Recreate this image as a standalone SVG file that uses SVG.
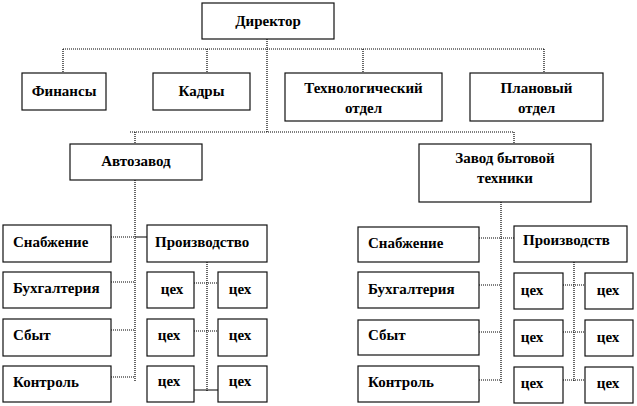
<svg xmlns="http://www.w3.org/2000/svg" width="637" height="406" viewBox="0 0 637 406">
<style>
.box{fill:#fff;stroke:#111;stroke-width:1.2}
.t{font-family:'Liberation Serif','DejaVu Serif','Noto Serif','Times New Roman',serif;font-weight:700;font-size:15px;fill:#000}
.c{text-anchor:middle}
.ln{fill:none;stroke:#000;stroke-width:1.2;stroke-dasharray:1 1}
.sl{fill:none;stroke:#000;stroke-width:1}
</style>
<rect width="637" height="406" fill="#fff"/>
<g id="connectors">
<path class="ln" d="M267 39V132M63 49H544M63 49V73M207 49V73M363 49V73M544 49V73M130 132H514M135 132V144M514 132V144"/>
<path class="ln" d="M135 180V382M111 237H135M111 282H135M111 330H135M111 377H135"/>
<path class="sl" d="M135 237H147"/>
<path class="ln" d="M207 262V392M194 283H218M194 331H218"/>
<path class="sl" d="M194 390H218"/>
<path class="ln" d="M501 202V383M479 238H514M479 285H501M479 332H501M479 380H501"/>
<path class="ln" d="M574 262V382M563 285H585M563 332H585M563 380H585"/>
</g>
<g id="director"><rect class="box" x="202" y="3" width="132" height="36"/><text class="t c" x="268" y="26" font-family="Liberation Serif">Директор</text></g>
<g id="finansy"><rect class="box" x="22" y="73" width="84" height="37"/><text class="t c" x="64" y="96">Финансы</text></g>
<g id="kadry"><rect class="box" x="153" y="73" width="97" height="37"/><text class="t c" x="201.5" y="96">Кадры</text></g>
<g id="tech"><rect class="box" x="285" y="73" width="157" height="48"/><text class="t c" x="363.5" y="93">Технологический</text><text class="t c" x="363.5" y="113">отдел</text></g>
<g id="plan"><rect class="box" x="470" y="73" width="133" height="48"/><text class="t c" x="536.5" y="93">Плановый</text><text class="t c" x="536.5" y="113">отдел</text></g>
<g id="avtozavod"><rect class="box" x="70" y="144" width="132" height="36"/><text class="t c" x="136" y="166">Автозавод</text></g>
<g id="zavod"><rect class="box" x="419" y="144" width="172" height="58"/><text class="t c" x="505" y="163">Завод бытовой</text><text class="t c" x="505" y="183">техники</text></g>
<g id="l-snab"><rect class="box" x="3" y="225" width="108" height="37"/><text class="t" x="13" y="247">Снабжение</text></g>
<g id="l-buh"><rect class="box" x="3" y="272" width="108" height="36"/><text class="t" x="13" y="293">Бухгалтерия</text></g>
<g id="l-sbyt"><rect class="box" x="3" y="319" width="108" height="37"/><text class="t" x="13" y="340">Сбыт</text></g>
<g id="l-kontr"><rect class="box" x="3" y="366" width="108" height="36"/><text class="t" x="13" y="387">Контроль</text></g>
<g id="l-proizv"><rect class="box" x="147" y="225" width="120" height="37"/><text class="t" x="155" y="247">Производство</text></g>
<g id="l-c1"><rect class="box" x="147" y="272" width="47" height="36"/><text class="t c" x="172" y="294">цех</text></g>
<g id="l-c2"><rect class="box" x="147" y="319" width="47" height="37"/><text class="t c" x="169" y="340">цех</text></g>
<g id="l-c3"><rect class="box" x="147" y="366" width="47" height="36"/><text class="t c" x="169" y="386">цех</text></g>
<g id="l-c4"><rect class="box" x="218" y="272" width="49" height="36"/><text class="t c" x="240" y="294">цех</text></g>
<g id="l-c5"><rect class="box" x="218" y="319" width="49" height="37"/><text class="t c" x="240" y="340">цех</text></g>
<g id="l-c6"><rect class="box" x="218" y="366" width="49" height="36"/><text class="t c" x="240" y="386">цех</text></g>
<g id="r-snab"><rect class="box" x="358" y="227" width="121" height="35"/><text class="t" x="368" y="248">Снабжение</text></g>
<g id="r-buh"><rect class="box" x="358" y="272" width="121" height="36"/><text class="t" x="368" y="294">Бухгалтерия</text></g>
<g id="r-sbyt"><rect class="box" x="358" y="320" width="121" height="35"/><text class="t" x="368" y="340">Сбыт</text></g>
<g id="r-kontr"><rect class="box" x="358" y="366" width="121" height="36"/><text class="t" x="368" y="387">Контроль</text></g>
<g id="r-proizv"><rect class="box" x="514" y="226" width="113" height="36"/><text class="t" x="523" y="245">Производств</text></g>
<g id="r-c1"><rect class="box" x="514" y="273" width="49" height="36"/><text class="t c" x="532" y="295">цех</text></g>
<g id="r-c2"><rect class="box" x="514" y="320" width="49" height="36"/><text class="t c" x="532" y="342">цех</text></g>
<g id="r-c3"><rect class="box" x="514" y="367" width="49" height="36"/><text class="t c" x="532" y="388">цех</text></g>
<g id="r-c4"><rect class="box" x="585" y="273" width="48" height="36"/><text class="t c" x="608" y="295">цех</text></g>
<g id="r-c5"><rect class="box" x="585" y="320" width="48" height="36"/><text class="t c" x="608" y="342">цех</text></g>
<g id="r-c6"><rect class="box" x="585" y="367" width="48" height="36"/><text class="t c" x="608" y="388">цех</text></g>
</svg>
